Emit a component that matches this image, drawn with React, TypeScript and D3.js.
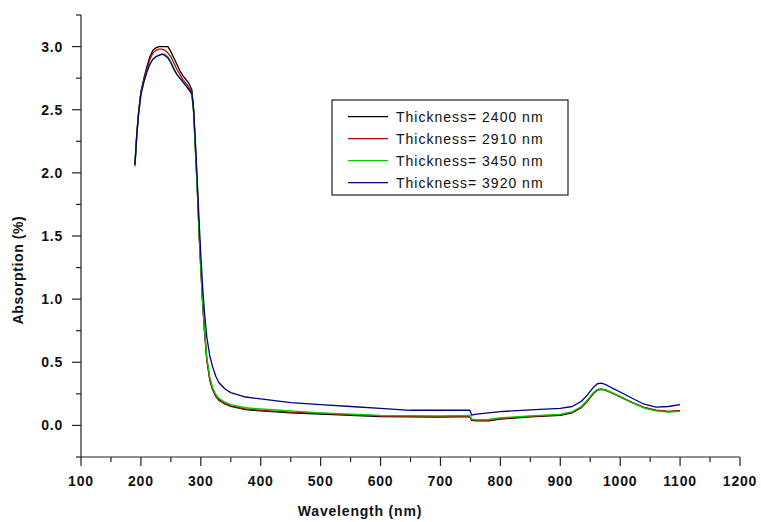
import React from "react";
import * as d3 from "d3";

const wavelengths = [190, 193, 196, 200, 205, 210, 215, 220, 225, 230, 235, 240, 245, 250, 255, 260, 265, 270, 275, 280, 285, 288, 291, 294, 297, 300, 303, 306, 310, 315, 320, 325, 330, 340, 350, 375, 400, 450, 500, 550, 600, 650, 700, 749, 752, 760, 780, 800, 850, 900, 920, 935, 945, 955, 962, 968, 975, 985, 1000, 1020, 1040, 1060, 1080, 1100];

const t2400 = [2.07, 2.3, 2.47, 2.64, 2.75, 2.84, 2.92, 2.97, 2.99, 3.0, 3.0, 3.0, 3.0, 2.96, 2.91, 2.86, 2.81, 2.77, 2.74, 2.71, 2.66, 2.5, 2.2, 1.9, 1.55, 1.25, 0.98, 0.76, 0.52, 0.36, 0.28, 0.23, 0.2, 0.17, 0.15, 0.125, 0.115, 0.1, 0.09, 0.08, 0.07, 0.068, 0.066, 0.07, 0.04, 0.036, 0.037, 0.05, 0.068, 0.08, 0.1, 0.14, 0.19, 0.25, 0.28, 0.285, 0.28, 0.26, 0.225, 0.18, 0.14, 0.12, 0.11, 0.115];
const t2910 = [2.06, 2.3, 2.48, 2.64, 2.74, 2.82, 2.9, 2.95, 2.97, 2.98, 2.98, 2.97, 2.95, 2.92, 2.87, 2.82, 2.78, 2.74, 2.71, 2.68, 2.64, 2.48, 2.18, 1.88, 1.53, 1.24, 0.97, 0.75, 0.52, 0.36, 0.28, 0.235, 0.205, 0.175, 0.155, 0.13, 0.12, 0.105, 0.095, 0.085, 0.075, 0.072, 0.07, 0.074, 0.045, 0.04, 0.042, 0.055, 0.072, 0.085, 0.105, 0.145, 0.195, 0.255, 0.283, 0.288, 0.282, 0.262, 0.228, 0.183, 0.143, 0.122, 0.112, 0.117];
const t3450 = [2.05, 2.28, 2.46, 2.62, 2.72, 2.8, 2.86, 2.9, 2.92, 2.93, 2.94, 2.94, 2.92, 2.88, 2.83, 2.78, 2.75, 2.72, 2.69, 2.66, 2.62, 2.47, 2.17, 1.87, 1.53, 1.24, 0.98, 0.77, 0.54, 0.38, 0.295, 0.245, 0.215, 0.185, 0.165, 0.14, 0.13, 0.115, 0.1, 0.09, 0.08, 0.077, 0.075, 0.08, 0.05, 0.045, 0.047, 0.06, 0.075, 0.088, 0.108, 0.148, 0.198, 0.258, 0.285, 0.29, 0.283, 0.262, 0.225, 0.18, 0.138, 0.115, 0.105, 0.112];
const t3920 = [2.06, 2.29, 2.46, 2.62, 2.72, 2.8, 2.86, 2.9, 2.92, 2.93, 2.94, 2.93, 2.91, 2.87, 2.82, 2.78, 2.75, 2.72, 2.69, 2.66, 2.63, 2.5, 2.24, 1.95, 1.63, 1.35, 1.1, 0.9, 0.7, 0.55, 0.46, 0.39, 0.34, 0.29, 0.26, 0.225, 0.21, 0.18, 0.165, 0.15, 0.135, 0.12, 0.12, 0.12, 0.082, 0.09, 0.1, 0.11, 0.123, 0.135, 0.15, 0.19, 0.24, 0.3, 0.33, 0.335, 0.325, 0.3, 0.265, 0.215, 0.168, 0.145, 0.15, 0.165];

const seriesNames = ["Thickness= 2400 nm", "Thickness= 2910 nm", "Thickness= 3450 nm", "Thickness= 3920 nm"];
const seriesValues = [t2400, t2910, t3450, t3920];
const seriesColors = ["#000000", "#c00000", "#00cc00", "#000080"];

const xMajorTicks = [100, 200, 300, 400, 500, 600, 700, 800, 900, 1000, 1100, 1200];
const xMinorTicks = [150, 250, 350, 450, 550, 650, 750, 850, 950, 1050, 1150];
const yMajorTicks = [0, 0.5, 1.0, 1.5, 2.0, 2.5, 3.0];
const yMinorTicks = [-0.25, 0.25, 0.75, 1.25, 1.75, 2.25, 2.75, 3.25];

const W = 761;
const H = 522;
const FONT = "Arial, 'Liberation Sans', sans-serif";

export default function App() {
  const x = d3.scaleLinear().domain([100, 1200]).range([81, 740]);
  const y = d3.scaleLinear().domain([-0.25, 3.25]).range([457, 15]);
  const line = d3
    .line<[number, number]>()
    .x((d) => x(d[0]))
    .y((d) => y(d[1]));

  const legendX = 332;
  const legendY = 100;
  const legendW = 236;
  const legendH = 95;

  return (
    <svg
      width={W}
      height={H}
      style={{ position: "absolute", left: 0, top: 0, background: "#fff" }}
      fontFamily={FONT}
    >
      <rect x={0} y={0} width={W} height={H} fill="#fff" />
      {seriesValues.map((vals, i) => (
        <path
          key={i}
          d={line(wavelengths.map((w, j) => [w, vals[j]] as [number, number])) || ""}
          fill="none"
          stroke={seriesColors[i]}
          strokeWidth={1.3}
          strokeLinejoin="round"
        />
      ))}
      <line x1={x(100)} x2={x(1200)} y1={y(-0.25)} y2={y(-0.25)} stroke="#222" strokeWidth={1.2} />
      <line x1={x(100)} x2={x(100)} y1={y(-0.25)} y2={y(3.25)} stroke="#222" strokeWidth={1.2} />
      {xMajorTicks.map((t) => (
        <g key={"xm" + t}>
          <line x1={x(t)} x2={x(t)} y1={y(-0.25)} y2={y(-0.25) + 9} stroke="#222" strokeWidth={1.2} />
          <text x={x(t)} y={486} textAnchor="middle" fontSize={14} fontWeight="bold" fill="#111" letterSpacing={0.8}>
            {t}
          </text>
        </g>
      ))}
      {xMinorTicks.map((t) => (
        <line key={"xn" + t} x1={x(t)} x2={x(t)} y1={y(-0.25)} y2={y(-0.25) + 5} stroke="#222" strokeWidth={1.2} />
      ))}
      {yMajorTicks.map((t) => (
        <g key={"ym" + t}>
          <line x1={x(100) - 9} x2={x(100)} y1={y(t)} y2={y(t)} stroke="#222" strokeWidth={1.2} />
          <text x={63} y={y(t) + 5} textAnchor="end" fontSize={14} fontWeight="bold" fill="#111" letterSpacing={0.8}>
            {t.toFixed(1)}
          </text>
        </g>
      ))}
      {yMinorTicks.map((t) => (
        <line key={"yn" + t} x1={x(100) - 5} x2={x(100)} y1={y(t)} y2={y(t)} stroke="#222" strokeWidth={1.2} />
      ))}
      <text x={360} y={516} textAnchor="middle" fontSize={14} fontWeight="bold" fill="#111" letterSpacing={0.8}>
        Wavelength (nm)
      </text>
      <text
        transform="translate(23,270) rotate(-90)"
        textAnchor="middle"
        fontSize={14}
        fontWeight="bold"
        fill="#111"
        letterSpacing={0.6}
      >
        Absorption (%)
      </text>
      <rect x={legendX} y={legendY} width={legendW} height={legendH} fill="#fff" stroke="#222" strokeWidth={1.2} />
      {seriesNames.map((name, i) => {
        const cy = legendY + 16.7 + i * 22;
        return (
          <g key={name}>
            <line x1={348} x2={388} y1={cy} y2={cy} stroke={seriesColors[i]} strokeWidth={1.3} />
            <text x={396} y={cy + 5} fontSize={14} fill="#111" letterSpacing={1.0}>
              {name}
            </text>
          </g>
        );
      })}
    </svg>
  );
}
